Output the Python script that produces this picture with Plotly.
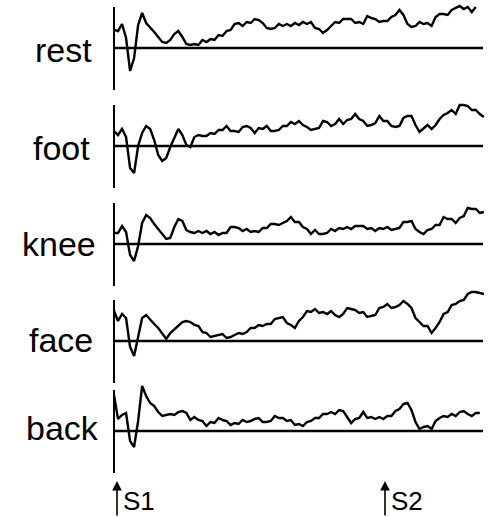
import numpy as np
import plotly.graph_objects as go

# ---------------- data (amplitude, arbitrary units; positive = up) ----------------
conditions = ["rest", "foot", "knee", "face", "back"]
STEP_MS = 15  # sampling interval of the traces, ms (t = 0 at S1)

rest = [18, 17, 24, 10, -23, -10, 23, 35, 25, 21, 16, 11, 6, 5, 8, 14, 17, 11, 4, 3,
        4, 3, 8, 6, 9, 8, 13, 12, 17, 18, 24, 25, 22, 26, 25, 29, 28, 25, 20, 19,
        20, 24, 22, 24, 22, 25, 23, 26, 24, 26, 20, 19, 15, 18, 22, 26, 25, 29, 29, 29,
        25, 26, 24, 32, 30, 29, 26, 27, 27, 31, 33, 38, 33, 24, 21, 22, 26, 24, 25, 22,
        31, 34, 34, 33, 38, 40, 42, 39, 41, 36, 41]

foot = [15, 11, 17, 9, -22, -27, 0, 13, 20, 17, 6, -9, -15, -12, -1, 9, 17, 11, 1, -1,
        9, 11, 10, 10, 13, 12, 16, 16, 20, 15, 15, 14, 19, 20, 18, 13, 18, 17, 20, 15,
        15, 16, 20, 20, 24, 22, 25, 21, 19, 16, 17, 18, 25, 24, 20, 22, 27, 22, 26, 27,
        32, 27, 25, 20, 21, 23, 30, 25, 25, 20, 19, 20, 28, 30, 30, 21, 14, 18, 21, 17,
        21, 27, 31, 33, 36, 32, 41, 41, 40, 36, 36, 32, 29]

knee = [11, 11, 18, 12, -11, -17, -2, 21, 29, 26, 20, 15, 10, 5, 6, 17, 25, 23, 14, 12,
        11, 13, 11, 13, 10, 12, 9, 11, 11, 17, 17, 16, 13, 15, 12, 13, 12, 16, 16, 20,
        20, 19, 21, 23, 27, 22, 22, 17, 15, 10, 14, 10, 10, 11, 15, 13, 16, 15, 17, 15,
        18, 18, 18, 15, 16, 13, 16, 15, 17, 14, 15, 16, 22, 22, 23, 15, 12, 10, 14, 15,
        19, 19, 27, 25, 25, 21, 26, 28, 36, 35, 35, 31, 32]

face = [30, 20, 27, 23, -6, -15, 4, 23, 26, 21, 17, 13, 7, 2, 8, 12, 16, 19, 20, 19,
        16, 15, 9, 8, 4, 5, 6, 7, 3, 4, 6, 8, 7, 9, 13, 13, 16, 15, 17, 17,
        22, 23, 24, 18, 16, 13, 20, 24, 30, 29, 32, 28, 29, 27, 30, 26, 24, 27, 33, 32,
        31, 28, 29, 24, 25, 26, 33, 34, 37, 33, 34, 36, 40, 37, 33, 23, 19, 15, 15, 8,
        13, 19, 27, 29, 36, 37, 40, 41, 47, 49, 49, 48, 47]

back = [36, 12, 16, 18, -10, -16, 10, 45, 35, 28, 25, 19, 15, 16, 17, 16, 19, 20, 18, 11,
        14, 11, 10, 5, 9, 8, 13, 11, 10, 6, 8, 7, 11, 9, 10, 12, 13, 9, 9, 10,
        15, 13, 13, 10, 11, 6, 7, 5, 9, 10, 13, 13, 17, 17, 19, 17, 21, 20, 14, 8,
        12, 13, 19, 13, 14, 12, 14, 12, 15, 15, 20, 22, 27, 28, 21, 9, 2, 4, 5, 2,
        10, 13, 15, 14, 17, 15, 19, 20, 17, 15, 18, 18]

series = [rest, foot, knee, face, back]

stim_times = [0, 1000]          # ms
stim_labels = ["S1", "S2"]
baseline_end_ms = 1377          # length of the zero lines, ms

# ---------------- layout constants ----------------
W, H = 488, 517
X0_PX = 114                     # pixel position of t = 0
PX_PER_MS = 0.268
AMP_PX = 1.0                    # pixels per amplitude unit
baseline_px = [48, 146, 244, 341, 431]
axis_up, axis_down = 41, 42     # extent of each panel's vertical axis (px)
label_left_px = [33, 31, 20, 27, 24]
label_mid_px = [50, 148, 244, 340, 428]
FONT = "Liberation Sans, Arial, sans-serif"

fig = go.Figure()

for name, vals, b in zip(conditions, series, baseline_px):
    t = np.arange(len(vals)) * STEP_MS
    off = H - b
    y = off + np.array(vals, dtype=float) * AMP_PX
    fig.add_trace(go.Scatter(x=t, y=y, mode="lines", name=name,
                             line=dict(color="black", width=2.4), showlegend=False,
                             hoverinfo="skip"))
    # zero line
    fig.add_shape(type="line", x0=0, x1=baseline_end_ms, y0=off, y1=off,
                  line=dict(color="black", width=2.5))
    # vertical axis
    fig.add_shape(type="line", x0=0, x1=0, y0=off - axis_down, y1=off + axis_up,
                  line=dict(color="black", width=2))

for name, lx, my in zip(conditions, label_left_px, label_mid_px):
    fig.add_annotation(text=name, xref="paper", yref="paper",
                       x=lx / W, y=1 - my / H, xanchor="left", yanchor="middle",
                       showarrow=False, font=dict(family=FONT, size=34, color="black"))

for st, lab in zip(stim_times, stim_labels):
    xs = st + (117 - X0_PX) / PX_PER_MS
    fig.add_annotation(x=xs, y=H - 481, ax=xs, ay=0, xref="x", yref="y",
                       axref="x", ayref="y", text="", showarrow=True,
                       arrowhead=2, arrowsize=1.2, arrowwidth=1.6, arrowcolor="black")
    fig.add_annotation(text=lab, x=xs + 4 / PX_PER_MS, y=H - 501, xref="x", yref="y",
                       xanchor="left", yanchor="middle", showarrow=False,
                       font=dict(family=FONT, size=26, color="black"))

fig.update_layout(
    width=W, height=H, margin=dict(l=0, r=0, t=0, b=0),
    paper_bgcolor="white", plot_bgcolor="white",
    xaxis=dict(range=[-X0_PX / PX_PER_MS, (W - X0_PX) / PX_PER_MS], visible=False),
    yaxis=dict(range=[0, H], visible=False),
)

fig.write_html("out.html")
